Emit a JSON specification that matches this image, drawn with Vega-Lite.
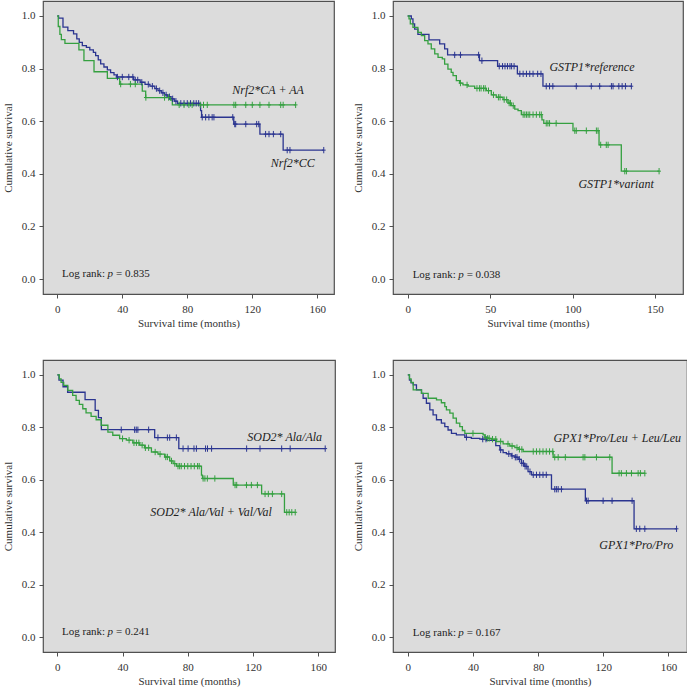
{
"$schema":"https://vega.github.io/schema/vega-lite/v6.json",
"padding":{"left":1,"top":0,"right":0,"bottom":0},
"config":{
 "font":"Liberation Serif",
 "view":{"fill":"#dcdcdc","stroke":"#505050","strokeWidth":1.2},
 "axis":{"labelFont":"Liberation Serif","labelFontSize":11,"labelColor":"#333","titleFont":"Liberation Serif","titleFontSize":11,"titleFontWeight":"normal","titleColor":"#333","tickColor":"#505050","tickSize":4,"domain":false,"grid":false},
 "axisY":{"titlePadding":8,"labelPadding":4},
 "axisX":{"titlePadding":3,"labelPadding":5},
 "text":{"font":"Liberation Serif"}
},
"datasets":{
"steps":[
{"p":1,"g":"b","t":0,"s":1},{"p":1,"g":"b","t":0.8,"s":0.992},{"p":1,"g":"b","t":3.5,"s":0.958},{"p":1,"g":"b","t":6.5,"s":0.944},{"p":1,"g":"b","t":10,"s":0.932},{"p":1,"g":"b","t":12,"s":0.913},{"p":1,"g":"b","t":13.5,"s":0.9},{"p":1,"g":"b","t":15.4,"s":0.887},{"p":1,"g":"b","t":17.9,"s":0.881},{"p":1,"g":"b","t":20,"s":0.871},{"p":1,"g":"b","t":22.2,"s":0.862},{"p":1,"g":"b","t":23.6,"s":0.849},{"p":1,"g":"b","t":25.2,"s":0.833},{"p":1,"g":"b","t":26.7,"s":0.818},{"p":1,"g":"b","t":28.7,"s":0.806},{"p":1,"g":"b","t":30.8,"s":0.795},{"p":1,"g":"b","t":32.8,"s":0.785},{"p":1,"g":"b","t":34.9,"s":0.776},{"p":1,"g":"b","t":36.5,"s":0.768},{"p":1,"g":"b","t":47,"s":0.757},{"p":1,"g":"b","t":51,"s":0.748},{"p":1,"g":"b","t":54,"s":0.74},{"p":1,"g":"b","t":57,"s":0.733},{"p":1,"g":"b","t":60,"s":0.724},{"p":1,"g":"b","t":62,"s":0.716},{"p":1,"g":"b","t":64,"s":0.708},{"p":1,"g":"b","t":66,"s":0.7},{"p":1,"g":"b","t":68,"s":0.693},{"p":1,"g":"b","t":70,"s":0.685},{"p":1,"g":"b","t":72,"s":0.676},{"p":1,"g":"b","t":74,"s":0.668},{"p":1,"g":"b","t":88.2,"s":0.64},{"p":1,"g":"b","t":88.8,"s":0.615},{"p":1,"g":"b","t":108.6,"s":0.589},{"p":1,"g":"b","t":124.7,"s":0.551},{"p":1,"g":"b","t":139,"s":0.49},{"p":1,"g":"b","t":164,"s":0.49},
{"p":1,"g":"g","t":0,"s":1},{"p":1,"g":"g","t":0.6,"s":0.96},{"p":1,"g":"g","t":1.6,"s":0.93},{"p":1,"g":"g","t":2.5,"s":0.91},{"p":1,"g":"g","t":4.7,"s":0.896},{"p":1,"g":"g","t":13.3,"s":0.871},{"p":1,"g":"g","t":16.4,"s":0.83},{"p":1,"g":"g","t":22.6,"s":0.788},{"p":1,"g":"g","t":30.8,"s":0.763},{"p":1,"g":"g","t":38.4,"s":0.741},{"p":1,"g":"g","t":52.3,"s":0.714},{"p":1,"g":"g","t":54.4,"s":0.69},{"p":1,"g":"g","t":69.7,"s":0.68},{"p":1,"g":"g","t":70.8,"s":0.662},{"p":1,"g":"g","t":146.7,"s":0.662},
{"p":2,"g":"b","t":0,"s":1},{"p":2,"g":"b","t":2.2,"s":0.989},{"p":2,"g":"b","t":3.2,"s":0.97},{"p":2,"g":"b","t":4.2,"s":0.95},{"p":2,"g":"b","t":6.2,"s":0.93},{"p":2,"g":"b","t":12.9,"s":0.909},{"p":2,"g":"b","t":19.4,"s":0.894},{"p":2,"g":"b","t":22.4,"s":0.875},{"p":2,"g":"b","t":24.2,"s":0.852},{"p":2,"g":"b","t":43.5,"s":0.83},{"p":2,"g":"b","t":54.5,"s":0.809},{"p":2,"g":"b","t":66.5,"s":0.78},{"p":2,"g":"b","t":82,"s":0.733},{"p":2,"g":"b","t":135.6,"s":0.733},
{"p":2,"g":"g","t":0,"s":1},{"p":2,"g":"g","t":0.8,"s":0.989},{"p":2,"g":"g","t":1.6,"s":0.97},{"p":2,"g":"g","t":3.2,"s":0.957},{"p":2,"g":"g","t":6.2,"s":0.938},{"p":2,"g":"g","t":8.3,"s":0.925},{"p":2,"g":"g","t":10.3,"s":0.906},{"p":2,"g":"g","t":12.3,"s":0.894},{"p":2,"g":"g","t":14.3,"s":0.875},{"p":2,"g":"g","t":16.4,"s":0.856},{"p":2,"g":"g","t":18.4,"s":0.843},{"p":2,"g":"g","t":21,"s":0.837},{"p":2,"g":"g","t":22.4,"s":0.817},{"p":2,"g":"g","t":24.4,"s":0.798},{"p":2,"g":"g","t":26.4,"s":0.786},{"p":2,"g":"g","t":27.5,"s":0.773},{"p":2,"g":"g","t":29.5,"s":0.754},{"p":2,"g":"g","t":31.5,"s":0.745},{"p":2,"g":"g","t":33.5,"s":0.738},{"p":2,"g":"g","t":36.6,"s":0.733},{"p":2,"g":"g","t":40.6,"s":0.725},{"p":2,"g":"g","t":47.7,"s":0.716},{"p":2,"g":"g","t":50.7,"s":0.7},{"p":2,"g":"g","t":53.7,"s":0.691},{"p":2,"g":"g","t":57.8,"s":0.682},{"p":2,"g":"g","t":60.8,"s":0.669},{"p":2,"g":"g","t":62.8,"s":0.659},{"p":2,"g":"g","t":64.9,"s":0.646},{"p":2,"g":"g","t":66.9,"s":0.64},{"p":2,"g":"g","t":68.9,"s":0.625},{"p":2,"g":"g","t":81.4,"s":0.605},{"p":2,"g":"g","t":82.5,"s":0.592},{"p":2,"g":"g","t":100.2,"s":0.564},{"p":2,"g":"g","t":116,"s":0.51},{"p":2,"g":"g","t":129.5,"s":0.41},{"p":2,"g":"g","t":152.4,"s":0.41},
{"p":3,"g":"b","t":0,"s":1},{"p":3,"g":"b","t":1,"s":0.98},{"p":3,"g":"b","t":3.5,"s":0.955},{"p":3,"g":"b","t":6.3,"s":0.934},{"p":3,"g":"b","t":17,"s":0.906},{"p":3,"g":"b","t":23.2,"s":0.865},{"p":3,"g":"b","t":25.2,"s":0.837},{"p":3,"g":"b","t":27,"s":0.791},{"p":3,"g":"b","t":59.7,"s":0.761},{"p":3,"g":"b","t":74.5,"s":0.719},{"p":3,"g":"b","t":164.3,"s":0.719},
{"p":3,"g":"g","t":0,"s":1},{"p":3,"g":"g","t":1.2,"s":0.985},{"p":3,"g":"g","t":2.3,"s":0.972},{"p":3,"g":"g","t":3.9,"s":0.96},{"p":3,"g":"g","t":6.4,"s":0.941},{"p":3,"g":"g","t":9.4,"s":0.922},{"p":3,"g":"g","t":11.5,"s":0.903},{"p":3,"g":"g","t":13.5,"s":0.888},{"p":3,"g":"g","t":15.6,"s":0.871},{"p":3,"g":"g","t":17.6,"s":0.855},{"p":3,"g":"g","t":20.7,"s":0.842},{"p":3,"g":"g","t":23.8,"s":0.829},{"p":3,"g":"g","t":26.9,"s":0.808},{"p":3,"g":"g","t":31,"s":0.782},{"p":3,"g":"g","t":34,"s":0.77},{"p":3,"g":"g","t":38.2,"s":0.757},{"p":3,"g":"g","t":42.3,"s":0.751},{"p":3,"g":"g","t":46.3,"s":0.741},{"p":3,"g":"g","t":50.5,"s":0.732},{"p":3,"g":"g","t":53.5,"s":0.722},{"p":3,"g":"g","t":57.7,"s":0.706},{"p":3,"g":"g","t":61.7,"s":0.698},{"p":3,"g":"g","t":65.8,"s":0.687},{"p":3,"g":"g","t":68.9,"s":0.672},{"p":3,"g":"g","t":71,"s":0.662},{"p":3,"g":"g","t":73,"s":0.652},{"p":3,"g":"g","t":88.4,"s":0.618},{"p":3,"g":"g","t":89,"s":0.605},{"p":3,"g":"g","t":107.9,"s":0.58},{"p":3,"g":"g","t":125.3,"s":0.546},{"p":3,"g":"g","t":139.3,"s":0.476},{"p":3,"g":"g","t":145.9,"s":0.476},
{"p":4,"g":"b","t":0,"s":1},{"p":4,"g":"b","t":1,"s":0.98},{"p":4,"g":"b","t":2,"s":0.97},{"p":4,"g":"b","t":3.3,"s":0.962},{"p":4,"g":"b","t":5.3,"s":0.943},{"p":4,"g":"b","t":8.4,"s":0.93},{"p":4,"g":"b","t":9.4,"s":0.911},{"p":4,"g":"b","t":11.4,"s":0.892},{"p":4,"g":"b","t":13.5,"s":0.867},{"p":4,"g":"b","t":15.5,"s":0.848},{"p":4,"g":"b","t":17.6,"s":0.829},{"p":4,"g":"b","t":20.6,"s":0.816},{"p":4,"g":"b","t":22.7,"s":0.803},{"p":4,"g":"b","t":24.7,"s":0.79},{"p":4,"g":"b","t":26.8,"s":0.777},{"p":4,"g":"b","t":29.8,"s":0.771},{"p":4,"g":"b","t":35,"s":0.762},{"p":4,"g":"b","t":39,"s":0.758},{"p":4,"g":"b","t":44.2,"s":0.755},{"p":4,"g":"b","t":48.3,"s":0.75},{"p":4,"g":"b","t":54,"s":0.73},{"p":4,"g":"b","t":56.5,"s":0.714},{"p":4,"g":"b","t":58.5,"s":0.704},{"p":4,"g":"b","t":60.5,"s":0.699},{"p":4,"g":"b","t":63.6,"s":0.691},{"p":4,"g":"b","t":65.7,"s":0.686},{"p":4,"g":"b","t":67.7,"s":0.678},{"p":4,"g":"b","t":69.7,"s":0.663},{"p":4,"g":"b","t":71.8,"s":0.651},{"p":4,"g":"b","t":73.8,"s":0.631},{"p":4,"g":"b","t":75.9,"s":0.619},{"p":4,"g":"b","t":88.2,"s":0.564},{"p":4,"g":"b","t":109,"s":0.52},{"p":4,"g":"b","t":138.9,"s":0.413},{"p":4,"g":"b","t":165,"s":0.413},
{"p":4,"g":"g","t":0,"s":1},{"p":4,"g":"g","t":1,"s":0.985},{"p":4,"g":"g","t":2,"s":0.972},{"p":4,"g":"g","t":3.3,"s":0.943},{"p":4,"g":"g","t":8.4,"s":0.93},{"p":4,"g":"g","t":12.5,"s":0.911},{"p":4,"g":"g","t":17.6,"s":0.905},{"p":4,"g":"g","t":20.6,"s":0.894},{"p":4,"g":"g","t":22.7,"s":0.879},{"p":4,"g":"g","t":23.7,"s":0.867},{"p":4,"g":"g","t":25.8,"s":0.854},{"p":4,"g":"g","t":27.8,"s":0.835},{"p":4,"g":"g","t":29.8,"s":0.816},{"p":4,"g":"g","t":31.9,"s":0.803},{"p":4,"g":"g","t":33.5,"s":0.788},{"p":4,"g":"g","t":35,"s":0.777},{"p":4,"g":"g","t":46.2,"s":0.771},{"p":4,"g":"g","t":47.3,"s":0.762},{"p":4,"g":"g","t":49.3,"s":0.758},{"p":4,"g":"g","t":51.3,"s":0.755},{"p":4,"g":"g","t":54.4,"s":0.746},{"p":4,"g":"g","t":58.5,"s":0.737},{"p":4,"g":"g","t":62.6,"s":0.729},{"p":4,"g":"g","t":65.7,"s":0.723},{"p":4,"g":"g","t":67.7,"s":0.716},{"p":4,"g":"g","t":70.8,"s":0.708},{"p":4,"g":"g","t":89.2,"s":0.686},{"p":4,"g":"g","t":125.4,"s":0.625},{"p":4,"g":"g","t":145.5,"s":0.625}
],
"cens":[
{"p":1,"g":"b","t":37,"s":0.768},{"p":1,"g":"b","t":40,"s":0.768},{"p":1,"g":"b","t":44,"s":0.768},{"p":1,"g":"b","t":46.5,"s":0.768},{"p":1,"g":"b","t":48,"s":0.757},{"p":1,"g":"b","t":49.5,"s":0.757},{"p":1,"g":"b","t":52,"s":0.748},{"p":1,"g":"b","t":56,"s":0.74},{"p":1,"g":"b","t":58.5,"s":0.733},{"p":1,"g":"b","t":61,"s":0.724},{"p":1,"g":"b","t":63,"s":0.716},{"p":1,"g":"b","t":65,"s":0.708},{"p":1,"g":"b","t":67,"s":0.7},{"p":1,"g":"b","t":69,"s":0.693},{"p":1,"g":"b","t":71,"s":0.685},{"p":1,"g":"b","t":73,"s":0.676},{"p":1,"g":"b","t":76,"s":0.668},{"p":1,"g":"b","t":78,"s":0.668},{"p":1,"g":"b","t":80,"s":0.668},{"p":1,"g":"b","t":82,"s":0.668},{"p":1,"g":"b","t":84,"s":0.668},{"p":1,"g":"b","t":85.5,"s":0.668},{"p":1,"g":"b","t":87,"s":0.668},{"p":1,"g":"b","t":89.2,"s":0.615},{"p":1,"g":"b","t":91.3,"s":0.615},{"p":1,"g":"b","t":93.3,"s":0.615},{"p":1,"g":"b","t":95.3,"s":0.615},{"p":1,"g":"b","t":96.4,"s":0.615},{"p":1,"g":"b","t":108,"s":0.615},{"p":1,"g":"b","t":109.2,"s":0.589},{"p":1,"g":"b","t":109.8,"s":0.589},{"p":1,"g":"b","t":116,"s":0.589},{"p":1,"g":"b","t":122.7,"s":0.589},{"p":1,"g":"b","t":124,"s":0.589},{"p":1,"g":"b","t":128.2,"s":0.551},{"p":1,"g":"b","t":130.3,"s":0.551},{"p":1,"g":"b","t":133,"s":0.551},{"p":1,"g":"b","t":137.5,"s":0.551},{"p":1,"g":"b","t":141.5,"s":0.49},{"p":1,"g":"b","t":143.2,"s":0.49},{"p":1,"g":"b","t":164,"s":0.49},
{"p":1,"g":"g","t":39,"s":0.741},{"p":1,"g":"g","t":45,"s":0.741},{"p":1,"g":"g","t":48,"s":0.741},{"p":1,"g":"g","t":54.5,"s":0.69},{"p":1,"g":"g","t":66,"s":0.69},{"p":1,"g":"g","t":68.5,"s":0.69},{"p":1,"g":"g","t":75,"s":0.662},{"p":1,"g":"g","t":78,"s":0.662},{"p":1,"g":"g","t":81,"s":0.662},{"p":1,"g":"g","t":83,"s":0.662},{"p":1,"g":"g","t":88,"s":0.662},{"p":1,"g":"g","t":90,"s":0.662},{"p":1,"g":"g","t":92.3,"s":0.662},{"p":1,"g":"g","t":108.7,"s":0.662},{"p":1,"g":"g","t":109.8,"s":0.662},{"p":1,"g":"g","t":116,"s":0.662},{"p":1,"g":"g","t":120,"s":0.662},{"p":1,"g":"g","t":124.7,"s":0.662},{"p":1,"g":"g","t":130.3,"s":0.662},{"p":1,"g":"g","t":137.5,"s":0.662},{"p":1,"g":"g","t":139,"s":0.662},{"p":1,"g":"g","t":146.7,"s":0.662},
{"p":2,"g":"b","t":28.5,"s":0.852},{"p":2,"g":"b","t":32,"s":0.852},{"p":2,"g":"b","t":43,"s":0.852},{"p":2,"g":"b","t":45,"s":0.83},{"p":2,"g":"b","t":55.5,"s":0.809},{"p":2,"g":"b","t":57.5,"s":0.809},{"p":2,"g":"b","t":59,"s":0.809},{"p":2,"g":"b","t":60.5,"s":0.809},{"p":2,"g":"b","t":62,"s":0.809},{"p":2,"g":"b","t":63,"s":0.809},{"p":2,"g":"b","t":64.5,"s":0.809},{"p":2,"g":"b","t":68,"s":0.78},{"p":2,"g":"b","t":70,"s":0.78},{"p":2,"g":"b","t":72,"s":0.78},{"p":2,"g":"b","t":74,"s":0.78},{"p":2,"g":"b","t":76,"s":0.78},{"p":2,"g":"b","t":78.8,"s":0.78},{"p":2,"g":"b","t":80.8,"s":0.78},{"p":2,"g":"b","t":84,"s":0.733},{"p":2,"g":"b","t":86,"s":0.733},{"p":2,"g":"b","t":88,"s":0.733},{"p":2,"g":"b","t":102.2,"s":0.733},{"p":2,"g":"b","t":111.3,"s":0.733},{"p":2,"g":"b","t":116.4,"s":0.733},{"p":2,"g":"b","t":123.5,"s":0.733},{"p":2,"g":"b","t":124.5,"s":0.733},{"p":2,"g":"b","t":128,"s":0.733},{"p":2,"g":"b","t":130,"s":0.733},{"p":2,"g":"b","t":132,"s":0.733},{"p":2,"g":"b","t":135.6,"s":0.733},
{"p":2,"g":"g","t":32,"s":0.745},{"p":2,"g":"g","t":36,"s":0.738},{"p":2,"g":"g","t":42,"s":0.725},{"p":2,"g":"g","t":43.5,"s":0.725},{"p":2,"g":"g","t":44.5,"s":0.725},{"p":2,"g":"g","t":46,"s":0.725},{"p":2,"g":"g","t":47,"s":0.725},{"p":2,"g":"g","t":49,"s":0.716},{"p":2,"g":"g","t":52,"s":0.7},{"p":2,"g":"g","t":55,"s":0.691},{"p":2,"g":"g","t":56,"s":0.691},{"p":2,"g":"g","t":58.5,"s":0.682},{"p":2,"g":"g","t":60,"s":0.682},{"p":2,"g":"g","t":61.5,"s":0.669},{"p":2,"g":"g","t":62.3,"s":0.669},{"p":2,"g":"g","t":64,"s":0.659},{"p":2,"g":"g","t":70,"s":0.625},{"p":2,"g":"g","t":71,"s":0.625},{"p":2,"g":"g","t":72,"s":0.625},{"p":2,"g":"g","t":73,"s":0.625},{"p":2,"g":"g","t":74,"s":0.625},{"p":2,"g":"g","t":76,"s":0.625},{"p":2,"g":"g","t":78,"s":0.625},{"p":2,"g":"g","t":80,"s":0.625},{"p":2,"g":"g","t":81,"s":0.625},{"p":2,"g":"g","t":84,"s":0.592},{"p":2,"g":"g","t":85,"s":0.592},{"p":2,"g":"g","t":86,"s":0.592},{"p":2,"g":"g","t":90,"s":0.592},{"p":2,"g":"g","t":101.3,"s":0.564},{"p":2,"g":"g","t":102.2,"s":0.564},{"p":2,"g":"g","t":108.3,"s":0.564},{"p":2,"g":"g","t":114.4,"s":0.564},{"p":2,"g":"g","t":115.4,"s":0.564},{"p":2,"g":"g","t":117,"s":0.51},{"p":2,"g":"g","t":120.4,"s":0.51},{"p":2,"g":"g","t":121.5,"s":0.51},{"p":2,"g":"g","t":131.6,"s":0.41},{"p":2,"g":"g","t":132.6,"s":0.41},{"p":2,"g":"g","t":152.4,"s":0.41},
{"p":3,"g":"b","t":39.2,"s":0.791},{"p":3,"g":"b","t":47.4,"s":0.791},{"p":3,"g":"b","t":48.4,"s":0.791},{"p":3,"g":"b","t":49.4,"s":0.791},{"p":3,"g":"b","t":56,"s":0.791},{"p":3,"g":"b","t":61.7,"s":0.761},{"p":3,"g":"b","t":67.5,"s":0.761},{"p":3,"g":"b","t":68.9,"s":0.761},{"p":3,"g":"b","t":73,"s":0.761},{"p":3,"g":"b","t":77.1,"s":0.719},{"p":3,"g":"b","t":80.2,"s":0.719},{"p":3,"g":"b","t":83.8,"s":0.719},{"p":3,"g":"b","t":85.3,"s":0.719},{"p":3,"g":"b","t":90.9,"s":0.719},{"p":3,"g":"b","t":92.1,"s":0.719},{"p":3,"g":"b","t":94.6,"s":0.719},{"p":3,"g":"b","t":116.1,"s":0.719},{"p":3,"g":"b","t":124.3,"s":0.719},{"p":3,"g":"b","t":137.6,"s":0.719},{"p":3,"g":"b","t":142.8,"s":0.719},{"p":3,"g":"b","t":164.3,"s":0.719},
{"p":3,"g":"g","t":40,"s":0.757},{"p":3,"g":"g","t":44,"s":0.751},{"p":3,"g":"g","t":47,"s":0.741},{"p":3,"g":"g","t":48.5,"s":0.741},{"p":3,"g":"g","t":50,"s":0.741},{"p":3,"g":"g","t":52,"s":0.732},{"p":3,"g":"g","t":54,"s":0.722},{"p":3,"g":"g","t":56,"s":0.722},{"p":3,"g":"g","t":60,"s":0.706},{"p":3,"g":"g","t":63,"s":0.698},{"p":3,"g":"g","t":66.5,"s":0.687},{"p":3,"g":"g","t":67.5,"s":0.687},{"p":3,"g":"g","t":70,"s":0.672},{"p":3,"g":"g","t":72,"s":0.662},{"p":3,"g":"g","t":74,"s":0.652},{"p":3,"g":"g","t":75,"s":0.652},{"p":3,"g":"g","t":76,"s":0.652},{"p":3,"g":"g","t":78,"s":0.652},{"p":3,"g":"g","t":80,"s":0.652},{"p":3,"g":"g","t":82,"s":0.652},{"p":3,"g":"g","t":84,"s":0.652},{"p":3,"g":"g","t":86,"s":0.652},{"p":3,"g":"g","t":87,"s":0.652},{"p":3,"g":"g","t":89.4,"s":0.605},{"p":3,"g":"g","t":90.5,"s":0.605},{"p":3,"g":"g","t":92,"s":0.605},{"p":3,"g":"g","t":96.6,"s":0.605},{"p":3,"g":"g","t":109,"s":0.58},{"p":3,"g":"g","t":110,"s":0.58},{"p":3,"g":"g","t":116,"s":0.58},{"p":3,"g":"g","t":119,"s":0.58},{"p":3,"g":"g","t":122.7,"s":0.58},{"p":3,"g":"g","t":127.4,"s":0.546},{"p":3,"g":"g","t":129.4,"s":0.546},{"p":3,"g":"g","t":131.9,"s":0.546},{"p":3,"g":"g","t":137.6,"s":0.546},{"p":3,"g":"g","t":140.7,"s":0.476},{"p":3,"g":"g","t":142.2,"s":0.476},{"p":3,"g":"g","t":143.8,"s":0.476},{"p":3,"g":"g","t":145.9,"s":0.476},
{"p":4,"g":"b","t":36,"s":0.762},{"p":4,"g":"b","t":46,"s":0.755},{"p":4,"g":"b","t":48,"s":0.755},{"p":4,"g":"b","t":57,"s":0.714},{"p":4,"g":"b","t":62,"s":0.699},{"p":4,"g":"b","t":64,"s":0.691},{"p":4,"g":"b","t":66,"s":0.686},{"p":4,"g":"b","t":67,"s":0.686},{"p":4,"g":"b","t":68.5,"s":0.678},{"p":4,"g":"b","t":70,"s":0.663},{"p":4,"g":"b","t":71,"s":0.663},{"p":4,"g":"b","t":72,"s":0.651},{"p":4,"g":"b","t":73,"s":0.651},{"p":4,"g":"b","t":75,"s":0.631},{"p":4,"g":"b","t":77,"s":0.619},{"p":4,"g":"b","t":79,"s":0.619},{"p":4,"g":"b","t":81,"s":0.619},{"p":4,"g":"b","t":83,"s":0.619},{"p":4,"g":"b","t":85,"s":0.619},{"p":4,"g":"b","t":90.2,"s":0.564},{"p":4,"g":"b","t":91.2,"s":0.564},{"p":4,"g":"b","t":92.3,"s":0.564},{"p":4,"g":"b","t":94.3,"s":0.564},{"p":4,"g":"b","t":109.7,"s":0.52},{"p":4,"g":"b","t":110.7,"s":0.52},{"p":4,"g":"b","t":119.9,"s":0.52},{"p":4,"g":"b","t":125.4,"s":0.52},{"p":4,"g":"b","t":137.7,"s":0.52},{"p":4,"g":"b","t":140.3,"s":0.413},{"p":4,"g":"b","t":142.4,"s":0.413},{"p":4,"g":"b","t":145.5,"s":0.413},{"p":4,"g":"b","t":165,"s":0.413},
{"p":4,"g":"g","t":40,"s":0.777},{"p":4,"g":"g","t":47.5,"s":0.762},{"p":4,"g":"g","t":49,"s":0.758},{"p":4,"g":"g","t":50,"s":0.758},{"p":4,"g":"g","t":52,"s":0.755},{"p":4,"g":"g","t":54,"s":0.755},{"p":4,"g":"g","t":57,"s":0.746},{"p":4,"g":"g","t":61.5,"s":0.737},{"p":4,"g":"g","t":64,"s":0.729},{"p":4,"g":"g","t":67,"s":0.723},{"p":4,"g":"g","t":68.5,"s":0.716},{"p":4,"g":"g","t":70,"s":0.716},{"p":4,"g":"g","t":77,"s":0.708},{"p":4,"g":"g","t":79,"s":0.708},{"p":4,"g":"g","t":81,"s":0.708},{"p":4,"g":"g","t":83,"s":0.708},{"p":4,"g":"g","t":85,"s":0.708},{"p":4,"g":"g","t":87,"s":0.708},{"p":4,"g":"g","t":89,"s":0.708},{"p":4,"g":"g","t":90.2,"s":0.686},{"p":4,"g":"g","t":92.3,"s":0.686},{"p":4,"g":"g","t":96.7,"s":0.686},{"p":4,"g":"g","t":107.6,"s":0.686},{"p":4,"g":"g","t":108.7,"s":0.686},{"p":4,"g":"g","t":115.8,"s":0.686},{"p":4,"g":"g","t":124,"s":0.686},{"p":4,"g":"g","t":129.7,"s":0.625},{"p":4,"g":"g","t":131.1,"s":0.625},{"p":4,"g":"g","t":134.2,"s":0.625},{"p":4,"g":"g","t":137.3,"s":0.625},{"p":4,"g":"g","t":141.4,"s":0.625},{"p":4,"g":"g","t":142.8,"s":0.625},{"p":4,"g":"g","t":145.5,"s":0.625}
],
"labels":[
{"p":1,"t":107.7,"s":0.703,"txt":"Nrf2*CA + AA"},{"p":1,"t":131.4,"s":0.426,"txt":"Nrf2*CC"},
{"p":2,"t":85.9,"s":0.79,"txt":"GSTP1*reference"},{"p":2,"t":103.5,"s":0.346,"txt":"GSTP1*variant"},
{"p":3,"t":116.5,"s":0.747,"txt":"SOD2* Ala/Ala"},{"p":3,"t":57,"s":0.46,"txt":"SOD2* Ala/Val + Val/Val"},
{"p":4,"t":89.4,"s":0.746,"txt":"GPX1*Pro/Leu + Leu/Leu"},{"p":4,"t":117.6,"s":0.337,"txt":"GPX1*Pro/Pro"}
],
"lr":[
{"p":1,"t":2.9,"s":0.02,"v":"= 0.835"},{"p":2,"t":3.0,"s":0.015,"v":"= 0.038"},{"p":3,"t":2.9,"s":0.019,"v":"= 0.241"},{"p":4,"t":3.1,"s":0.017,"v":"= 0.167"}
]
},
"columns":2,
"spacing":{"row":30,"column":15},
"resolve":{"scale":{"x":"independent","y":"independent","color":"independent"}},
"concat":[
{"width":291,"height":293,
 "encoding":{"x":{"field":"t","type":"quantitative","scale":{"domain":[-8.8,170.3],"nice":false,"zero":false},"axis":{"values":[0,40,80,120,160],"title":"Survival time (months)"}},
  "y":{"field":"s","type":"quantitative","scale":{"domain":[-0.057,1.057],"nice":false,"zero":false},"axis":{"values":[0,0.2,0.4,0.6,0.8,1],"format":".1f","title":"Cumulative survival"}}},
 "layer":[
  {"data":{"name":"steps"},"transform":[{"filter":"datum.p==1"}],"mark":{"type":"line","interpolate":"step-after","strokeWidth":1.3},"encoding":{"color":{"field":"g","type":"nominal","scale":{"domain":["b","g"],"range":["#2b3590","#35a040"]},"legend":null}}},
  {"data":{"name":"cens"},"transform":[{"filter":"datum.p==1"}],"mark":{"type":"point","shape":"M-0.6,0H0.6M0,-1V1","size":40,"filled":false,"strokeWidth":1,"opacity":1},"encoding":{"color":{"field":"g","type":"nominal","scale":{"domain":["b","g"],"range":["#2b3590","#35a040"]},"legend":null}}},
  {"data":{"name":"labels"},"transform":[{"filter":"datum.p==1"}],"mark":{"type":"text","font":"Liberation Serif","fontStyle":"italic","fontSize":12,"align":"left","baseline":"alphabetic","color":"#222"},"encoding":{"text":{"field":"txt"}}},
  {"data":{"name":"lr"},"transform":[{"filter":"datum.p==1"}],"mark":{"type":"text","font":"Liberation Serif","fontSize":11,"align":"left","baseline":"middle","color":"#222"},"encoding":{"text":{"value":"Log rank:"}}},
  {"data":{"name":"lr"},"transform":[{"filter":"datum.p==1"}],"mark":{"type":"text","font":"Liberation Serif","fontStyle":"italic","fontSize":11,"align":"left","baseline":"middle","color":"#222","dx":45.5},"encoding":{"text":{"value":"p"}}},
  {"data":{"name":"lr"},"transform":[{"filter":"datum.p==1"}],"mark":{"type":"text","font":"Liberation Serif","fontSize":11,"align":"left","baseline":"middle","color":"#222","dx":54},"encoding":{"text":{"field":"v"}}}
 ]},
{"width":290,"height":293,
 "encoding":{"x":{"field":"t","type":"quantitative","scale":{"domain":[-8.9,166.9],"nice":false,"zero":false},"axis":{"values":[0,50,100,150],"title":"Survival time (months)"}},
  "y":{"field":"s","type":"quantitative","scale":{"domain":[-0.057,1.057],"nice":false,"zero":false},"axis":{"values":[0,0.2,0.4,0.6,0.8,1],"format":".1f","title":"Cumulative survival"}}},
 "layer":[
  {"data":{"name":"steps"},"transform":[{"filter":"datum.p==2"}],"mark":{"type":"line","interpolate":"step-after","strokeWidth":1.3},"encoding":{"color":{"field":"g","type":"nominal","scale":{"domain":["b","g"],"range":["#2b3590","#35a040"]},"legend":null}}},
  {"data":{"name":"cens"},"transform":[{"filter":"datum.p==2"}],"mark":{"type":"point","shape":"M-0.6,0H0.6M0,-1V1","size":40,"filled":false,"strokeWidth":1,"opacity":1},"encoding":{"color":{"field":"g","type":"nominal","scale":{"domain":["b","g"],"range":["#2b3590","#35a040"]},"legend":null}}},
  {"data":{"name":"labels"},"transform":[{"filter":"datum.p==2"}],"mark":{"type":"text","font":"Liberation Serif","fontStyle":"italic","fontSize":12,"align":"left","baseline":"alphabetic","color":"#222"},"encoding":{"text":{"field":"txt"}}},
  {"data":{"name":"lr"},"transform":[{"filter":"datum.p==2"}],"mark":{"type":"text","font":"Liberation Serif","fontSize":11,"align":"left","baseline":"middle","color":"#222"},"encoding":{"text":{"value":"Log rank:"}}},
  {"data":{"name":"lr"},"transform":[{"filter":"datum.p==2"}],"mark":{"type":"text","font":"Liberation Serif","fontStyle":"italic","fontSize":11,"align":"left","baseline":"middle","color":"#222","dx":45.5},"encoding":{"text":{"value":"p"}}},
  {"data":{"name":"lr"},"transform":[{"filter":"datum.p==2"}],"mark":{"type":"text","font":"Liberation Serif","fontSize":11,"align":"left","baseline":"middle","color":"#222","dx":54},"encoding":{"text":{"field":"v"}}}
 ]},
{"width":292,"height":292,
 "encoding":{"x":{"field":"t","type":"quantitative","scale":{"domain":[-8.8,170.3],"nice":false,"zero":false},"axis":{"values":[0,40,80,120,160],"title":"Survival time (months)"}},
  "y":{"field":"s","type":"quantitative","scale":{"domain":[-0.057,1.057],"nice":false,"zero":false},"axis":{"values":[0,0.2,0.4,0.6,0.8,1],"format":".1f","title":"Cumulative survival"}}},
 "layer":[
  {"data":{"name":"steps"},"transform":[{"filter":"datum.p==3"}],"mark":{"type":"line","interpolate":"step-after","strokeWidth":1.3},"encoding":{"color":{"field":"g","type":"nominal","scale":{"domain":["b","g"],"range":["#2b3590","#35a040"]},"legend":null}}},
  {"data":{"name":"cens"},"transform":[{"filter":"datum.p==3"}],"mark":{"type":"point","shape":"M-0.6,0H0.6M0,-1V1","size":40,"filled":false,"strokeWidth":1,"opacity":1},"encoding":{"color":{"field":"g","type":"nominal","scale":{"domain":["b","g"],"range":["#2b3590","#35a040"]},"legend":null}}},
  {"data":{"name":"labels"},"transform":[{"filter":"datum.p==3"}],"mark":{"type":"text","font":"Liberation Serif","fontStyle":"italic","fontSize":12,"align":"left","baseline":"alphabetic","color":"#222"},"encoding":{"text":{"field":"txt"}}},
  {"data":{"name":"lr"},"transform":[{"filter":"datum.p==3"}],"mark":{"type":"text","font":"Liberation Serif","fontSize":11,"align":"left","baseline":"middle","color":"#222"},"encoding":{"text":{"value":"Log rank:"}}},
  {"data":{"name":"lr"},"transform":[{"filter":"datum.p==3"}],"mark":{"type":"text","font":"Liberation Serif","fontStyle":"italic","fontSize":11,"align":"left","baseline":"middle","color":"#222","dx":45.5},"encoding":{"text":{"value":"p"}}},
  {"data":{"name":"lr"},"transform":[{"filter":"datum.p==3"}],"mark":{"type":"text","font":"Liberation Serif","fontSize":11,"align":"left","baseline":"middle","color":"#222","dx":54},"encoding":{"text":{"field":"v"}}}
 ]},
{"width":294,"height":292,
 "encoding":{"x":{"field":"t","type":"quantitative","scale":{"domain":[-9.1,171.4],"nice":false,"zero":false},"axis":{"values":[0,40,80,120,160],"title":"Survival time (months)"}},
  "y":{"field":"s","type":"quantitative","scale":{"domain":[-0.057,1.057],"nice":false,"zero":false},"axis":{"values":[0,0.2,0.4,0.6,0.8,1],"format":".1f","title":"Cumulative survival"}}},
 "layer":[
  {"data":{"name":"steps"},"transform":[{"filter":"datum.p==4"}],"mark":{"type":"line","interpolate":"step-after","strokeWidth":1.3},"encoding":{"color":{"field":"g","type":"nominal","scale":{"domain":["b","g"],"range":["#2b3590","#35a040"]},"legend":null}}},
  {"data":{"name":"cens"},"transform":[{"filter":"datum.p==4"}],"mark":{"type":"point","shape":"M-0.6,0H0.6M0,-1V1","size":40,"filled":false,"strokeWidth":1,"opacity":1},"encoding":{"color":{"field":"g","type":"nominal","scale":{"domain":["b","g"],"range":["#2b3590","#35a040"]},"legend":null}}},
  {"data":{"name":"labels"},"transform":[{"filter":"datum.p==4"}],"mark":{"type":"text","font":"Liberation Serif","fontStyle":"italic","fontSize":12,"align":"left","baseline":"alphabetic","color":"#222"},"encoding":{"text":{"field":"txt"}}},
  {"data":{"name":"lr"},"transform":[{"filter":"datum.p==4"}],"mark":{"type":"text","font":"Liberation Serif","fontSize":11,"align":"left","baseline":"middle","color":"#222"},"encoding":{"text":{"value":"Log rank:"}}},
  {"data":{"name":"lr"},"transform":[{"filter":"datum.p==4"}],"mark":{"type":"text","font":"Liberation Serif","fontStyle":"italic","fontSize":11,"align":"left","baseline":"middle","color":"#222","dx":45.5},"encoding":{"text":{"value":"p"}}},
  {"data":{"name":"lr"},"transform":[{"filter":"datum.p==4"}],"mark":{"type":"text","font":"Liberation Serif","fontSize":11,"align":"left","baseline":"middle","color":"#222","dx":54},"encoding":{"text":{"field":"v"}}}
 ]}
]
}
